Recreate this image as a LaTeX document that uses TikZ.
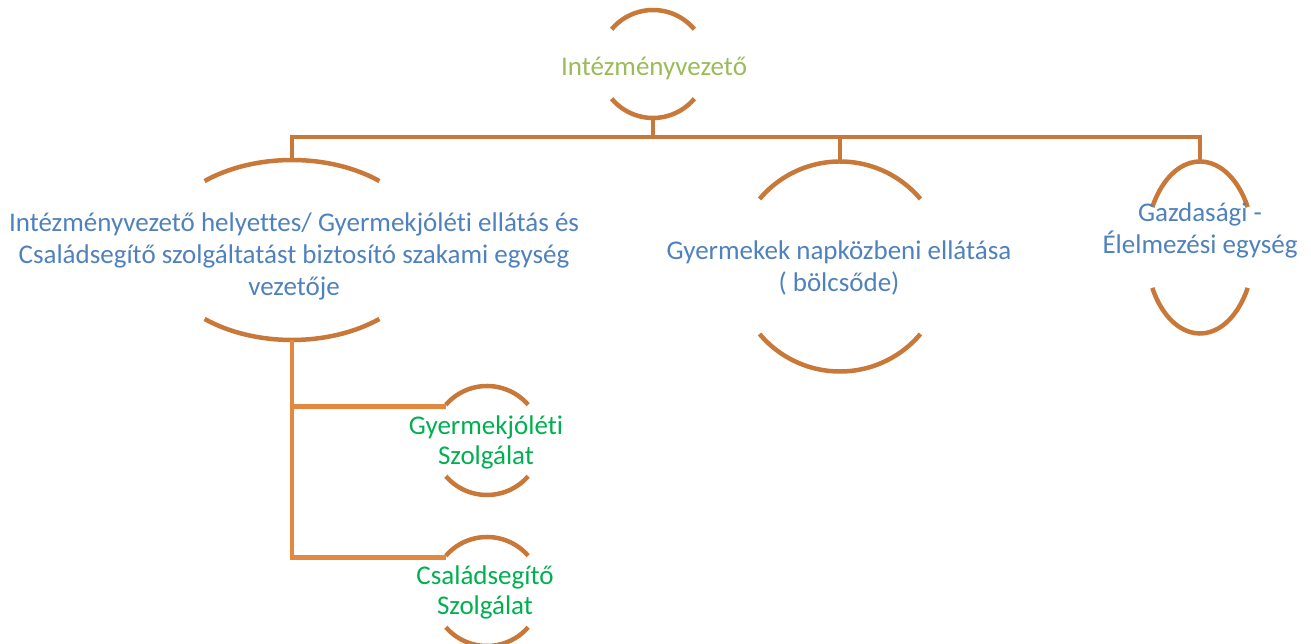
\documentclass[tikz,border=0pt]{standalone}
\usepackage{fontspec}
\setmainfont{Carlito}[Ligatures={NoCommon}]
\usetikzlibrary{calc}
\definecolor{arcorange}{RGB}{200,121,57}
\definecolor{linkorange}{RGB}{226,136,64}
\definecolor{txtblue}{RGB}{79,129,189}
\definecolor{txtlgreen}{RGB}{155,187,89}
\definecolor{txtgreen}{RGB}{0,176,80}
\begin{document}
\begin{tikzpicture}[x=1pt,y=1pt,
  arcline/.style={draw=arcorange,line width=4.5pt},
  bus/.style={draw=arcorange,line width=4.5pt},
  link/.style={draw=linkorange,line width=4.5pt},
  lbl/.style={align=center,inner sep=0pt,font=\fontsize{27}{32}\selectfont},
  sublbl/.style={align=center,inner sep=0pt,font=\fontsize{27}{30}\selectfont}]
\useasboundingbox (0,0) rectangle (1311,644);
\clip (0,0) rectangle (1311,644);
% centres
\coordinate (c1) at (653,580);
\coordinate (c2) at (292,394);
\coordinate (c3) at (840,377.5);
\coordinate (c4) at (1200,396.5);
\coordinate (c5) at (487,203.5);
\coordinate (c6) at (487,52.5);
% shapes (top and bottom arcs)
\draw[arcline] ($(c1)+(40:54)$) arc[start angle=40,end angle=140,radius=54];
\draw[arcline] ($(c1)+(220:54)$) arc[start angle=220,end angle=320,radius=54];
\draw[arcline] ($(c2)+({136*cos(50)},{90*sin(50)})$) arc[start angle=50,end angle=130,x radius=136,y radius=90];
\draw[arcline] ($(c2)+({136*cos(230)},{90*sin(230)})$) arc[start angle=230,end angle=310,x radius=136,y radius=90];
\draw[arcline] ($(c3)+(40:105)$) arc[start angle=40,end angle=140,radius=105];
\draw[arcline] ($(c3)+(220:105)$) arc[start angle=220,end angle=320,radius=105];
\draw[arcline] ($(c4)+({54*cos(28)},{86*sin(28)})$) arc[start angle=28,end angle=152,x radius=54,y radius=86];
\draw[arcline] ($(c4)+({54*cos(208)},{86*sin(208)})$) arc[start angle=208,end angle=332,x radius=54,y radius=86];
\draw[arcline] ($(c5)+(41:54.5)$) arc[start angle=41,end angle=139,radius=54.5];
\draw[arcline] ($(c5)+(221:54.5)$) arc[start angle=221,end angle=319,radius=54.5];
\draw[arcline] ($(c6)+(41:54.5)$) arc[start angle=41,end angle=139,radius=54.5];
\draw[arcline] ($(c6)+(221:54.5)$) arc[start angle=221,end angle=319,radius=54.5];
% texts
\node[lbl,text=txtlgreen] (n1) at (654,576) {Intézményvezető};
\node[lbl,text=txtblue] (n2) at (294,388) {Intézményvezető helyettes/ Gyermekjóléti ellátás és\\Családsegítő szolgáltatást biztosító szakami egység\\vezetője};
\node[lbl,text=txtblue] (n3) at (839,376) {Gyermekek napközbeni ellátása\\( bölcsőde)};
\node[lbl,text=txtblue] (n4) at (1200,414) {Gazdasági -\\Élelmezési egység};
\node[sublbl,text=txtgreen] (n5) at (486,202) {Gyermekjóléti\\Szolgálat};
\node[sublbl,text=txtgreen] (n6) at (485,52) {Családsegítő\\Szolgálat};
% connector anchor points
\coordinate (b1) at ($(c1)+(0,-54)$);
\coordinate (t2) at ($(c2)+(0,90)$);
\coordinate (b2) at ($(c2)+(0,-90)$);
\coordinate (t3) at ($(c3)+(0,105)$);
\coordinate (t4) at ($(c4)+(0,86)$);
\coordinate (w5) at ($(c5)+(139:54.5)+(0,-2)$);
\coordinate (w6) at ($(c6)+(139:54.5)+(0,-2)$);
\coordinate (busy) at (653,507);
% connectors
\draw[bus] (b1) -- (busy);
\draw[bus] (t2) |- (busy) -| (t4);
\draw[bus] (t3) -- (t3 |- busy);
\draw[link] (b2) |- (w5);
\draw[link] (b2) |- (w6);
\end{tikzpicture}
\end{document}
